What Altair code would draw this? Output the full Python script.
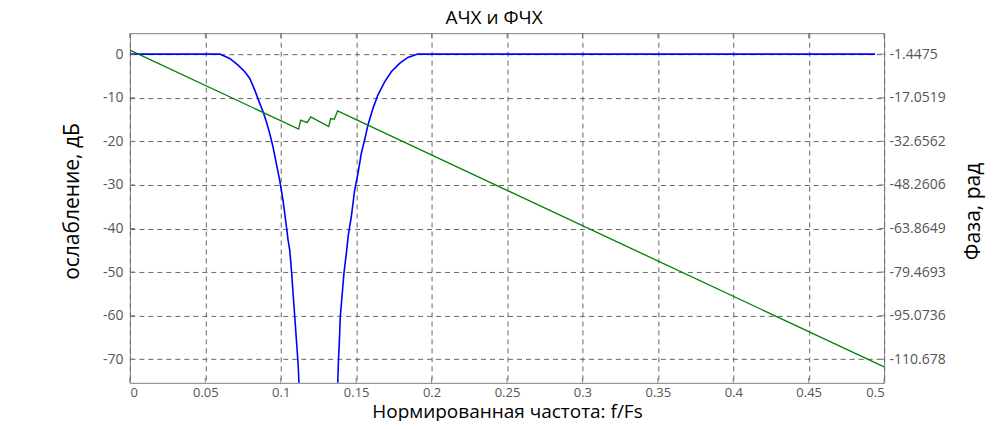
import altair as alt
import pandas as pd

# ---- data ----
mag_f = [0, 0.0596, 0.0662, 0.0717, 0.0762, 0.0795, 0.0828, 0.0861, 0.0883, 0.0905,
         0.0927, 0.0949, 0.0971, 0.0993, 0.1015, 0.1038, 0.1049, 0.1060, 0.1071, 0.1082,
         0.1093, 0.1104, 0.1115, 0.1121, 0.1135, 0.1250, 0.1365, 0.1378, 0.1382, 0.1389,
         0.1395, 0.1406, 0.1419, 0.1435, 0.1448, 0.1468, 0.1490, 0.1512, 0.1534, 0.1556,
         0.1578, 0.1611, 0.1644, 0.1689, 0.1733, 0.1788, 0.1843, 0.1909, 0.494]
mag_db = [0, 0, -0.99, -2.52, -4.05, -5.58, -8.26, -11.3, -13.2, -15.5,
          -18.2, -21.3, -25.1, -28.9, -33.5, -39.6, -42.7, -45.0, -49.5, -54.9,
          -60.2, -65.6, -70.9, -75.5, -85.0, -95.0, -85.0, -75.5, -70.9, -65.6,
          -60.2, -55.7, -50.3, -45.7, -41.5, -37.3, -31.2, -27.4, -22.8, -19.7,
          -16.3, -12.5, -9.4, -6.35, -4.05, -2.14, -0.76, 0, 0]

ph_f = [0, 0.1119, 0.1132, 0.1175, 0.1199, 0.1318, 0.1331, 0.1355, 0.1377, 0.5]
ph_rad = [0, -28.3, -25.1, -26.0, -23.9, -27.4, -24.5, -24.8, -21.8, -113.4]

x_ticks = [0, 0.05, 0.1, 0.15, 0.2, 0.25, 0.3, 0.35, 0.4, 0.45, 0.5]
db_ticks = [0, -10, -20, -30, -40, -50, -60, -70]
ph_ticks = [-1.4475, -17.0519, -32.6562, -48.2606, -63.8649, -79.4693, -95.0736, -110.678]

db_domain = [-75.4, 4.8]
ph_domain = [-119.1047, 6.0426]
x_domain = [0, 0.5]

W, H = 755, 350
FONT = "Open Sans"
LABEL_COLOR = "#555555"
GRID_COLOR = "#666666"

mag_df = pd.DataFrame({"f": mag_f, "db": mag_db})
ph_df = pd.DataFrame({"f": ph_f, "ph": ph_rad})
xt_df = pd.DataFrame({"f": x_ticks})
yt_df = pd.DataFrame({"db": db_ticks})

xscale = alt.Scale(domain=x_domain, nice=False, zero=False)
dbscale = alt.Scale(domain=db_domain, nice=False, zero=False)
phscale = alt.Scale(domain=ph_domain, nice=False, zero=False)

x_axis = alt.Axis(values=x_ticks, labelExpr="toString(datum.value)", ticks=False, domain=False,
                  grid=True, labelPadding=4, labelFontSize=13,
                  title="Нормированная частота: f/Fs", titleFontSize=19,
                  titleY=28.5, titleBaseline="middle")

blue = alt.Chart(mag_df).mark_line(color="#0000ff", strokeWidth=1.6, clip=True).encode(
    x=alt.X("f:Q", scale=xscale, axis=x_axis),
    y=alt.Y("db:Q", scale=dbscale,
            axis=alt.Axis(orient="left", values=db_ticks, labelExpr="toString(datum.value)",
                          ticks=False, domain=False, grid=True, labelPadding=7,
                          title="ослабление, дБ", titleAngle=270, titleX=-57, titleY=168,
                          titleBaseline="middle", titleAlign="center")),
    order=alt.Order("f:Q"),
)

ticks_bottom = alt.Chart(xt_df).mark_rule(color="#808080", strokeWidth=1).encode(
    x=alt.X("f:Q", scale=xscale), y=alt.value(H), y2=alt.value(H - 5))
ticks_top = alt.Chart(xt_df).mark_rule(color="#808080", strokeWidth=1).encode(
    x=alt.X("f:Q", scale=xscale), y=alt.value(0), y2=alt.value(5))
ticks_left = alt.Chart(yt_df).mark_rule(color="#808080", strokeWidth=1).encode(
    y=alt.Y("db:Q", scale=dbscale), x=alt.value(0), x2=alt.value(5))
ticks_right = alt.Chart(yt_df).mark_rule(color="#808080", strokeWidth=1).encode(
    y=alt.Y("db:Q", scale=dbscale), x=alt.value(W - 5), x2=alt.value(W))

left_layer = alt.layer(blue, ticks_bottom, ticks_top, ticks_left, ticks_right)

green = alt.Chart(ph_df).mark_line(color="#008000", strokeWidth=1.3, clip=True).encode(
    x=alt.X("f:Q", scale=xscale),
    y=alt.Y("ph:Q", scale=phscale,
            axis=alt.Axis(orient="right", values=ph_ticks, labelExpr="toString(datum.value)",
                          ticks=False, domain=False, grid=False, labelPadding=5,
                          title="Фаза, рад", titleAngle=270, titleX=89, titleY=178,
                          titleBaseline="middle", titleAlign="center")),
    order=alt.Order("f:Q"),
)

chart = alt.layer(left_layer, green).resolve_scale(y="independent").properties(
    width=W, height=H,
    background="white",
    title=alt.TitleParams("АЧХ и ФЧХ", fontSize=19, font=FONT, color="#000000",
                          fontWeight="normal", offset=5, dx=-13),
    autosize=alt.AutoSizeParams(type="none"),
    padding={"left": 122, "top": 25, "right": 108, "bottom": 38},
).configure_view(stroke="#808080", strokeWidth=1).configure_axis(
    labelFont=FONT, labelFontSize=14, labelColor=LABEL_COLOR,
    titleFont=FONT, titleFontSize=21, titleColor="#000000", titleFontWeight="normal",
    gridColor=GRID_COLOR, gridDash=[5, 4], gridWidth=1, gridOpacity=1,
)

chart.save("out.html", embed_options={"renderer": "svg", "actions": False})
